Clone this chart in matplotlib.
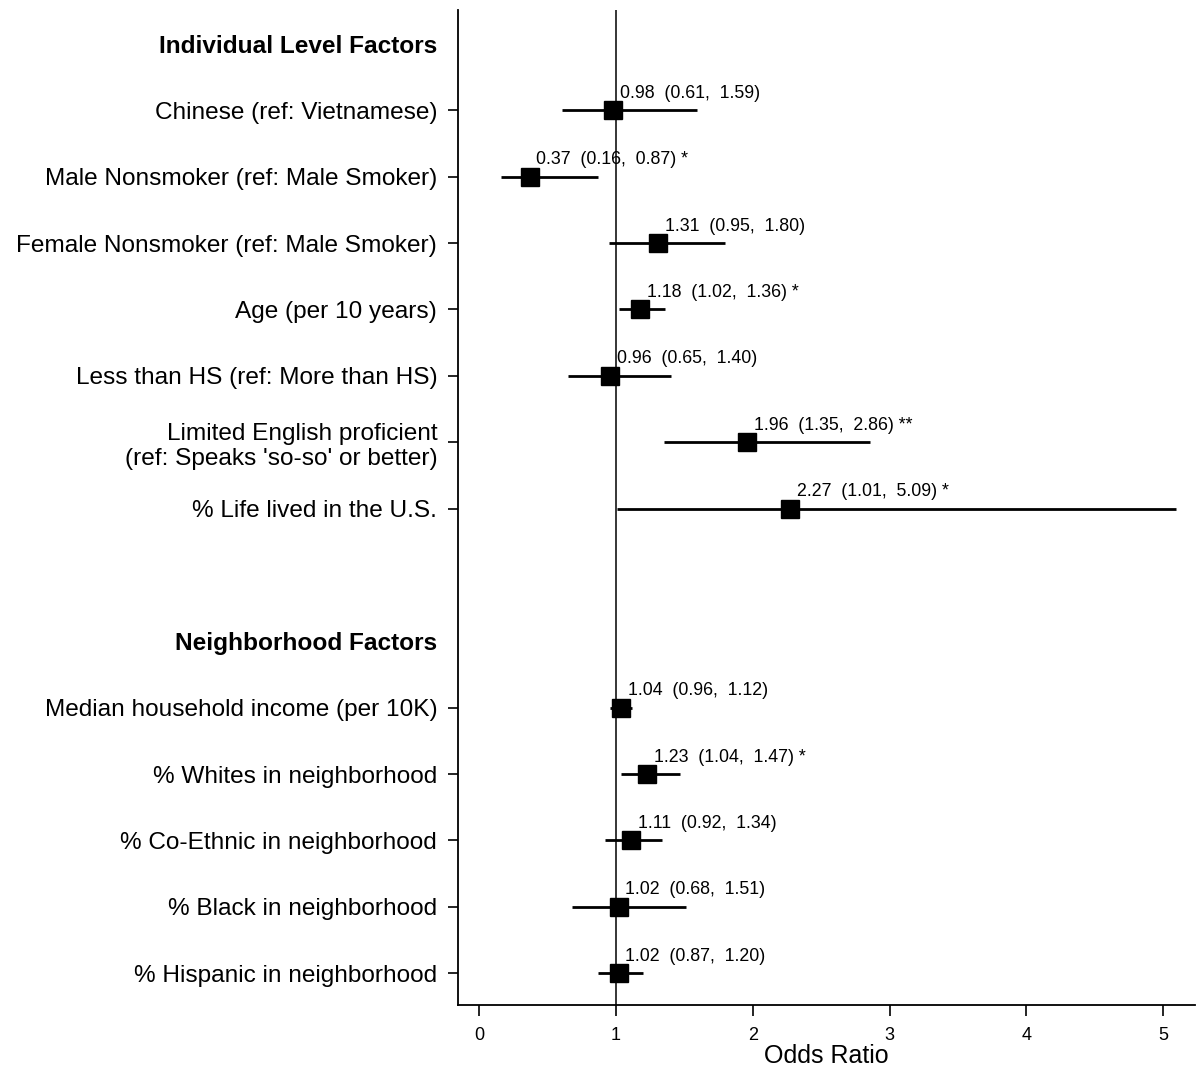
import matplotlib
matplotlib.use("Agg")
import matplotlib.pyplot as plt

plt.rcParams["font.family"] = ["Liberation Sans", "DejaVu Sans"]

# rows from top to bottom; None marks a header or blank row
labels = [
    "Individual Level Factors",
    "Chinese (ref: Vietnamese)",
    "Male Nonsmoker (ref: Male Smoker)",
    "Female Nonsmoker (ref: Male Smoker)",
    "Age (per 10 years)",
    "Less than HS (ref: More than HS)",
    "Limited English proficient\n(ref: Speaks 'so-so' or better)",
    "% Life lived in the U.S.",
    "",
    "Neighborhood Factors",
    "Median household income (per 10K)",
    "% Whites in neighborhood",
    "% Co-Ethnic in neighborhood",
    "% Black in neighborhood",
    "% Hispanic in neighborhood",
]
headers = ["Individual Level Factors", "Neighborhood Factors"]

odds = [None, 0.98, 0.37, 1.31, 1.18, 0.96, 1.96, 2.27, None, None, 1.04, 1.23, 1.11, 1.02, 1.02]
lower = [None, 0.61, 0.16, 0.95, 1.02, 0.65, 1.35, 1.01, None, None, 0.96, 1.04, 0.92, 0.68, 0.87]
upper = [None, 1.59, 0.87, 1.80, 1.36, 1.40, 2.86, 5.09, None, None, 1.12, 1.47, 1.34, 1.51, 1.20]
stars = [None, "", "*", "", "*", "", "**", "*", None, None, "", "*", "", "", ""]

x_ticks = [0, 1, 2, 3, 4, 5]

fig = plt.figure(figsize=(12.02, 10.71), dpi=100)
ax = fig.add_axes([0.381, 0.0616, 0.613, 0.929])

ax.axvline(1, color="black", linewidth=1.1, zorder=1)

for i, (est, lo, hi, st) in enumerate(zip(odds, lower, upper, stars)):
    if est is None:
        continue
    ax.plot([lo, hi], [i, i], color="black", linewidth=2.0, solid_capstyle="butt", zorder=2)
    ax.plot(est, i, marker="s", color="black", markersize=13, zorder=3)
    txt = f"{est:.2f}  ({lo:.2f},  {hi:.2f})"
    if st:
        txt += " " + st
    ax.annotate(txt, xy=(est, i), xytext=(5, 6), textcoords="offset points",
                fontsize=12.8, ha="left", va="bottom", color="black")

ax.set_ylim(14.48, -0.51)
ax.set_xlim(-0.153, 5.23)

ax.set_yticks(range(len(labels)))
ax.set_yticklabels(labels, fontsize=17.6)
ax.tick_params(axis="y", length=7, width=1.2, pad=8)
for tick, lab in zip(ax.yaxis.get_major_ticks(), labels):
    if lab in headers:
        tick.tick1line.set_visible(False)
        tick.label1.set_fontweight("bold")
    elif lab == "":
        tick.tick1line.set_visible(False)

ax.set_xticks(x_ticks)
ax.set_xticklabels([str(t) for t in x_ticks], fontsize=13)
ax.tick_params(axis="x", length=8, width=1.2, pad=8)
ax.set_xlabel("Odds Ratio", fontsize=18, labelpad=0)

for side in ["top", "right"]:
    ax.spines[side].set_visible(False)
for side in ["left", "bottom"]:
    ax.spines[side].set_linewidth(1.3)

fig.savefig("out.png", dpi=100)
